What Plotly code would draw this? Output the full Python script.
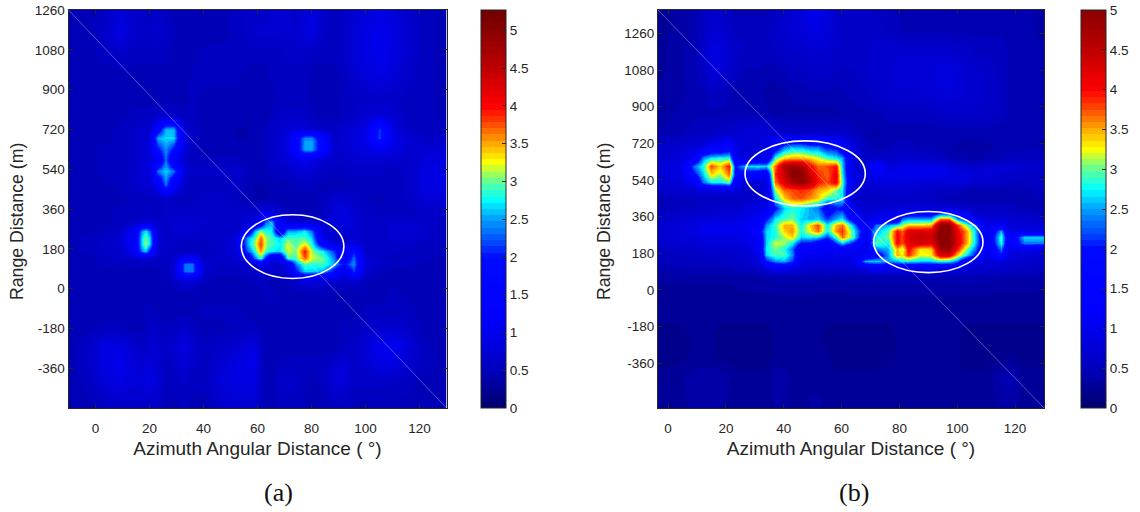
import numpy as np
import plotly.graph_objects as go

X_A = [-10,-3,3,9,14,17,18.5,20,23,26,29,33,36,40,46,52,56,59,61,63,65,68,71,74,77.5,80,84,88,92,95.5,100,105,110,116,122,130]
Y_A = [1260,1160,1060,960,860,780,720,680,630,580,530,470,410,350,300,260,230,200,170,140,110,80,40,-20,-100,-180,-260,-340,-420,-540]
Z_A = [
[10,10,11,14,12,12,11,11,12,11,10,10,10,10,10,11,12,12,12,12,13,13,13,12,14,15,12,11,12,13,14,15,14,12,11,10],
[10,10,12,15,13,12,12,12,13,12,11,10,10,10,10,11,12,13,13,13,13,13,13,13,14,15,12,11,12,14,15,16,15,13,11,10],
[10,10,11,12,11,11,11,11,11,11,10,10,10,11,11,11,11,11,11,11,11,11,12,12,12,11,11,11,12,14,15,16,15,13,11,10],
[10,10,10,10,10,10,10,10,10,10,10,10,11,11,11,11,10,10,10,10,11,11,11,11,11,10,10,10,11,13,14,15,14,12,11,10],
[10,10,10,10,10,10,10,10,10,10,10,10,11,10,10,10,10,10,10,10,10,11,11,11,11,10,10,10,11,11,12,12,12,11,11,10],
[10,10,10,10,11,11,11,11,12,13,12,11,11,10,10,10,9,9,10,10,11,12,12,12,12,11,10,10,11,12,13,14,13,11,11,10],
[10,10,10,11,12,13,13,13,19,24,24,13,12,10,10,9,9,10,10,11,12,13,14,14,14,13,12,12,13,14,15,21,15,12,11,11],
[10,10,10,11,12,13,13,14,24,25,25,15,12,10,10,9,9,10,10,11,12,13,15,19,23,23,19,12,13,14,16,21,16,13,12,12],
[10,10,11,11,12,13,14,14,20,23,20,14,11,10,10,10,9,10,10,11,12,13,15,19,24,24,19,13,13,14,15,16,15,13,13,14],
[10,10,11,11,12,13,14,14,17,22,17,13,11,11,11,11,10,10,10,11,12,13,14,15,16,15,13,12,12,13,13,13,13,12,14,15],
[10,10,11,11,12,14,14,14,22,25,22,14,12,12,12,13,11,10,10,10,11,11,12,13,14,13,12,11,11,12,12,12,11,12,15,15],
[10,10,10,11,12,13,13,13,17,22,18,12,11,11,11,12,10,9,9,9,10,10,10,11,11,11,10,10,10,11,11,11,11,12,15,15],
[10,10,10,10,11,11,11,11,11,12,11,11,11,12,12,11,10,9,9,9,9,9,9,9,10,10,11,13,13,12,11,10,11,12,14,14],
[10,10,10,11,11,11,11,11,11,12,12,12,12,12,12,12,12,12,14,15,14,12,11,10,10,10,11,14,15,13,12,11,11,11,12,12],
[10,10,10,11,12,13,14,14,12,12,13,13,13,13,12,12,14,15,18,22,24,18,15,14,14,13,13,14,15,14,12,12,13,13,12,11],
[10,10,11,12,17,23,26,22,13,12,13,13,13,12,12,12,17,24,30,27,26,18,24,24,26,22,14,13,13,13,12,12,13,14,12,11],
[10,11,12,13,18,25,29,25,14,12,12,12,12,12,12,14,23,28,36,30,28,25,28,28,28,25,16,13,12,13,12,12,13,13,12,11],
[10,11,12,13,18,25,30,25,14,12,12,11,11,11,12,14,23,30,38,30,28,26,31,28,32,27,19,15,15,15,12,12,12,12,11,11],
[10,11,12,12,17,22,25,20,13,12,11,11,11,11,12,14,21,27,35,28,26,25,31,29,39,30,26,21,18,20,12,12,12,11,11,11],
[10,10,11,12,12,13,14,13,12,11,12,18,18,12,12,13,15,22,28,20,16,16,28,28,37,31,29,23,18,22,13,12,11,11,11,10],
[10,10,11,11,11,11,11,11,11,11,13,22,22,13,12,12,13,14,17,15,13,13,16,22,28,27,28,24,20,23,14,12,11,11,10,10],
[10,10,10,10,10,10,10,10,10,11,13,22,22,13,11,11,12,12,13,13,12,12,14,20,25,25,24,20,16,21,13,11,10,10,10,10],
[10,10,10,10,10,10,10,10,10,10,12,14,14,11,10,10,10,11,11,11,10,10,11,13,15,15,14,13,12,13,11,10,10,10,10,10],
[10,10,10,10,10,10,10,10,10,10,10,10,10,9,9,9,10,10,10,11,11,10,10,10,10,10,10,10,10,10,10,10,11,10,10,10],
[10,10,10,10,10,10,11,11,10,10,10,10,10,11,11,11,10,10,10,10,10,10,10,10,10,10,10,10,10,10,11,11,11,11,10,10],
[10,10,11,11,10,10,11,12,12,11,11,13,11,10,10,11,11,11,10,9,9,10,10,10,10,10,10,10,11,11,12,13,13,12,10,10],
[10,12,15,15,13,12,12,13,13,12,13,15,13,11,12,13,14,15,12,10,10,10,10,10,10,10,10,10,11,12,14,16,17,14,11,10],
[10,12,15,16,14,13,14,14,13,11,12,14,12,11,13,15,15,16,12,10,10,11,11,11,11,11,11,13,14,12,13,15,15,13,11,10],
[10,11,14,15,14,14,15,15,14,11,11,12,11,11,14,15,15,15,12,10,10,12,12,12,11,10,11,14,14,12,12,12,12,11,10,10],
[10,10,11,12,12,12,12,12,12,10,10,11,10,10,12,13,13,13,11,10,10,11,11,11,10,10,10,11,11,10,10,10,10,10,10,10],
]

X_B = [-3,4,9,12,15,18,21,23,27,31,34,37,40,43,46,49,52,55,58,60,64,68,72,76,79,81,83,87,91,94,97,100,103,106,110,115,118,123,130]
Y_B = [1370,1270,1170,1070,970,870,770,700,650,610,570,530,490,450,400,350,320,290,260,230,200,170,140,110,70,20,-40,-130,-230,-330,-430,-580]
Z_B = [
[6,7,9,11,12,12,11,10,10,10,10,11,12,13,14,16,16,14,12,12,12,12,11,11,10,10,10,10,10,10,10,10,10,9,9,9,9,9,8],
[6,7,9,11,13,13,12,11,11,11,11,12,13,14,14,15,15,14,13,12,12,12,12,11,11,10,10,10,10,10,10,10,10,10,10,10,9,9,8],
[6,8,10,12,15,15,13,12,11,11,11,11,12,12,12,13,13,13,12,12,12,12,13,13,13,13,13,13,13,13,13,12,12,11,11,11,10,9,9],
[6,8,10,11,14,14,12,11,10,10,9,9,10,11,11,12,12,12,11,11,11,12,13,13,14,14,14,14,14,15,15,14,13,13,12,11,10,10,9],
[7,8,9,10,11,11,10,9,9,9,8,8,8,9,9,10,10,10,10,10,11,11,12,13,13,13,13,13,14,14,14,14,13,13,12,11,10,10,10],
[7,9,10,10,10,10,10,10,10,10,9,8,8,8,8,8,8,8,8,9,9,10,10,11,11,11,11,11,11,12,12,12,12,12,12,11,10,10,10],
[9,10,11,11,11,12,12,13,14,14,14,13,12,12,12,12,12,12,12,12,11,9,8,9,9,9,9,9,9,9,9,9,9,9,9,9,9,9,10],
[12,13,14,15,18,18,19,15,14,14,15,19,22,24,24,22,22,20,20,18,15,11,10,10,11,11,11,10,10,10,9,8,8,8,8,9,9,10,10],
[13,14,17,23,26,27,27,18,13,15,17,28,33,34,34,33,31,28,26,24,14,12,12,12,12,13,13,12,12,11,10,9,9,8,9,10,11,11,11],
[14,15,22,27,37,33,39,20,25,26,25,36,46,48,47,40,36,37,39,25,14,13,19,15,15,16,16,16,16,16,15,13,13,12,13,14,14,13,12],
[14,15,20,25,33,30,36,20,19,19,18,38,44,50,50,43,38,36,41,26,15,14,17,16,16,16,16,16,16,16,15,15,15,14,14,13,12,12,12],
[13,14,17,22,26,26,29,18,13,14,15,36,42,46,49,45,39,37,41,28,15,14,14,15,15,15,15,14,14,14,14,14,14,12,13,12,11,11,12],
[12,13,13,14,15,15,15,14,12,13,15,30,36,37,38,37,34,33,29,26,14,13,13,13,13,13,13,12,12,11,11,11,10,10,10,10,10,10,11],
[10,11,11,11,11,11,11,11,12,13,14,26,33,36,37,35,33,28,27,26,13,11,11,12,12,12,12,12,11,10,10,9,9,9,9,9,9,10,10],
[10,11,11,12,12,12,13,13,14,15,16,20,25,27,26,24,22,19,20,20,15,13,13,13,14,14,14,14,14,14,14,13,12,11,11,11,11,10,10],
[12,13,14,14,14,15,15,15,16,17,20,26,28,29,25,24,25,21,24,26,19,15,17,18,18,22,24,24,24,36,36,24,20,16,14,14,13,13,12],
[13,14,15,16,16,16,16,16,17,18,23,28,34,34,26,33,37,26,34,36,24,17,22,24,26,30,33,33,34,50,50,38,30,22,15,18,14,14,13],
[13,14,15,16,16,16,16,16,16,19,25,27,33,35,27,32,36,26,35,38,27,19,24,28,40,36,42,42,42,50,50,41,35,25,16,24,15,16,16],
[13,14,14,15,15,15,15,15,16,18,25,27,30,33,25,26,25,21,28,36,28,18,26,29,40,37,43,44,43,50,50,42,35,25,17,28,18,25,25],
[12,13,13,14,14,14,14,14,15,17,25,31,30,26,20,20,19,18,21,25,20,17,29,26,40,37,41,43,41,50,50,42,35,25,17,27,18,22,22],
[11,12,12,13,13,13,13,13,14,17,26,29,27,22,18,18,18,17,18,18,17,16,22,24,34,30,40,32,33,47,48,39,30,22,16,22,16,16,15],
[11,11,12,12,12,12,12,13,13,15,25,28,28,23,17,17,17,16,16,16,16,17,19,23,34,32,38,31,32,42,42,33,26,20,15,20,14,14,13],
[10,11,11,11,11,11,12,12,13,14,20,23,24,21,16,15,15,15,15,15,15,24,25,23,24,26,26,25,25,27,26,22,18,15,14,14,13,13,12],
[9,10,10,10,10,10,10,11,11,12,15,17,17,15,14,13,13,13,13,13,13,15,18,17,17,16,17,16,16,16,16,15,14,13,13,13,12,11,11],
[7,8,8,8,8,8,8,8,8,8,9,10,10,10,10,10,10,9,9,10,10,10,10,10,10,10,10,10,10,10,10,10,10,10,10,9,9,9,9],
[6,6,6,6,6,6,6,7,7,7,7,8,8,8,8,8,7,7,7,7,8,8,8,8,8,8,8,8,8,8,8,8,8,8,8,7,7,7,7],
[5,5,5,5,5,5,5,5,6,6,6,6,6,6,6,6,6,6,6,6,6,6,6,6,6,6,6,6,6,6,6,6,6,6,6,6,6,6,6],
[5,5,5,5,5,5,5,5,5,5,5,5,5,5,5,5,5,5,5,5,5,5,5,5,5,5,5,5,5,5,5,5,5,5,5,5,5,5,5],
[4,4,5,5,5,4,4,4,4,4,4,5,5,5,5,5,5,4,4,4,4,4,4,4,5,5,5,5,5,5,5,5,4,4,4,4,4,4,4],
[4,4,5,5,5,4,4,4,4,4,4,5,5,5,5,5,5,5,4,4,4,4,4,4,5,5,5,5,5,5,5,5,4,4,4,4,5,4,4],
[5,6,8,8,8,8,7,5,5,5,5,8,8,6,5,6,6,6,5,5,5,5,5,6,6,6,6,5,5,5,5,5,5,5,5,9,10,6,5],
[5,6,7,7,7,7,6,5,5,5,5,7,7,6,5,7,7,6,5,5,5,5,5,6,6,6,6,5,5,5,5,5,5,5,5,7,7,6,5],
]

# colour-reading calibration: grid entries (tenths) were read by eye against a provisional blue ramp
CAL_READ = [0,0.5,1.0,1.5,1.8,2.0,2.2,2.5,3.0,5.3]
CAL_TRUE = [0,0.25,0.45,0.85,1.2,1.95,2.35,2.65,3.1,5.3]

X_TICKS_A = [0,20,40,60,80,100,120]
Y_TICKS = [-360,-180,0,180,360,540,720,900,1080,1260]
CB_TICKS = [0,0.5,1,1.5,2,2.5,3,3.5,4,4.5,5]
X_RANGE_A, Y_RANGE_A, CMAX_A = [-10,130], [-540,1260], 5.27
X_RANGE_B, Y_RANGE_B, CMAX_B = [-3.5,130], [-580,1375], 5.0
ELLIPSE_A = [(73,190,19,144)]
ELLIPSE_B = [(47.4,572,20.8,160),(90,235,18.9,150)]

STOP_V = [0,0.5,1.0,1.25,2.0,2.15,2.5,2.75,3.0,3.15,3.25,3.5,3.8,4.0,4.5,5.27]
STOP_C = [(0,0,110),(0,0,190),(0,0,240),(0,0,255),(0,10,255),(0,60,255),(0,160,255),(0,255,255),(100,255,150),(190,255,60),
          (255,255,0),(255,170,0),(255,60,0),(255,0,0),(190,0,0),(110,0,0)]

def stepped(cmax, n=64):
    out = []
    arr = np.array(STOP_C, float)
    for i in range(n):
        v = (i + .5) / n * cmax
        c = [int(np.interp(v, STOP_V, arr[:, k])) for k in range(3)]
        col = f"rgb({c[0]},{c[1]},{c[2]})"
        out += [[i / n, col], [(i + 1) / n, col]]
    return out

def calibrated(rows):
    return np.interp(np.array(rows) / 10, CAL_READ, CAL_TRUE)

W, H = 1140, 512
INK = "#262626"
FONT = "Liberation Sans"
AX = dict(showline=True, linecolor=INK, linewidth=1, mirror="allticks", ticks="inside", ticklen=4,
          tickcolor=INK, showgrid=False, zeroline=False, tickfont=dict(size=13.5, color=INK, family=FONT))

fig = go.Figure()
fig.add_trace(go.Heatmap(x=X_A, y=Y_A, z=calibrated(Z_A), coloraxis="coloraxis", zsmooth="best", xaxis="x", yaxis="y", hoverinfo="skip"))
fig.add_trace(go.Heatmap(x=X_B, y=Y_B, z=calibrated(Z_B), coloraxis="coloraxis2", zsmooth="best", xaxis="x2", yaxis="y2", hoverinfo="skip"))

def cbar(left):
    return dict(x=left / W, xanchor="left", xref="paper", y=(512 - 209) / H, yanchor="middle", len=398 / H, lenmode="fraction",
                thickness=25, thicknessmode="pixels", xpad=0, ypad=0, outlinecolor=INK, outlinewidth=1,
                ticks="inside", ticklen=4, tickcolor=INK, tickvals=CB_TICKS, ticktext=[f"{t:g}" for t in CB_TICKS],
                tickfont=dict(size=13.5, color=INK, family=FONT))

XT = "Azimuth Angular Distance ( °)"
YT = "Range Distance (m)"
TFX = dict(size=19, color=INK, family=FONT)
TFY = dict(size=17.7, color=INK, family=FONT)
shapes = []
def ell(xr, yr, e):
    for cx, cy, rx, ry in e:
        shapes.append(dict(type="circle", xref=xr, yref=yr, x0=cx - rx, x1=cx + rx, y0=cy - ry, y1=cy + ry, line=dict(color="white", width=1.6)))
ell("x", "y", ELLIPSE_A)
ell("x2", "y2", ELLIPSE_B)
DIAG = dict(color="rgba(255,255,255,0.4)", width=0.8)
shapes.append(dict(type="line", xref="x", yref="y", x0=X_RANGE_A[0], x1=X_RANGE_A[1], y0=Y_RANGE_A[1], y1=Y_RANGE_A[0], line=DIAG))
shapes.append(dict(type="line", xref="x2", yref="y2", x0=X_RANGE_B[0], x1=X_RANGE_B[1], y0=Y_RANGE_B[1], y1=Y_RANGE_B[0], line=DIAG))
for left in (481, 1081):
    shapes.append(dict(type="line", xref="paper", yref="paper", x0=left / W, x1=(left + 25) / W, y0=104 / H, y1=502 / H, line=dict(color="rgba(255,255,255,0.25)", width=1)))

def caption(text, px):
    return dict(text=text, xref="paper", yref="paper", x=px / W, y=(512 - 492) / H, showarrow=False, xanchor="center", yanchor="middle", font=dict(family="Liberation Serif", size=26, color="#111111"))

def ytitle(px):
    return dict(text=YT, xref="paper", yref="paper", x=px / W, y=(512 - 222) / H, showarrow=False, xanchor="center", yanchor="middle", textangle=-90, font=TFY)

fig.update_layout(
    width=W, height=H, margin=dict(l=0, r=0, t=0, b=0, autoexpand=False), paper_bgcolor="white", plot_bgcolor="white", showlegend=False,
    font=dict(family=FONT, color=INK),
    xaxis=dict(AX, domain=[68.5 / W, 446.5 / W], range=X_RANGE_A, tickvals=X_TICKS_A, ticklabelstandoff=8, title=dict(text=XT, font=TFX, standoff=6), anchor="y"),
    yaxis=dict(AX, domain=[104 / H, 502 / H], range=Y_RANGE_A, tickvals=Y_TICKS, ticktext=[str(t) for t in Y_TICKS], anchor="x"),
    xaxis2=dict(AX, domain=[658 / W, 1044 / W], range=X_RANGE_B, tickvals=X_TICKS_A, ticklabelstandoff=8, title=dict(text=XT, font=TFX, standoff=6), anchor="y2"),
    yaxis2=dict(AX, domain=[104 / H, 502 / H], range=Y_RANGE_B, tickvals=Y_TICKS, ticktext=[str(t) for t in Y_TICKS], anchor="x2"),
    coloraxis=dict(cmin=0, cmax=CMAX_A, colorscale=stepped(CMAX_A), colorbar=cbar(481)),
    coloraxis2=dict(cmin=0, cmax=CMAX_B, colorscale=stepped(CMAX_B), colorbar=cbar(1081)),
    shapes=shapes,
    annotations=[caption("(a)", 278), caption("(b)", 854), ytitle(17), ytitle(604)],
)
fig.write_html("out.html", config={"displayModeBar": False}, post_script="document.body.style.margin='0';window.dispatchEvent(new Event('resize'));")
